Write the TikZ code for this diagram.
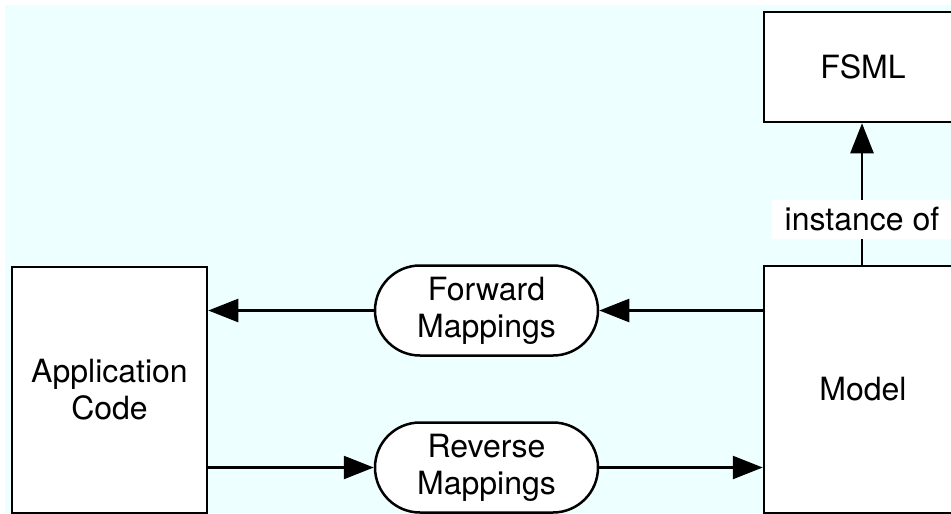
\documentclass[tikz,border=0pt]{standalone}
\usepackage{fontspec}
\setmainfont{TeX Gyre Heros}
\usetikzlibrary{arrows.meta,shapes.misc}
\definecolor{paleCyan}{RGB}{238,255,255}
\tikzset{
  lbl/.style={font=\fontsize{32}{37}\selectfont, align=center},
  block/.style={lbl, draw=black, line width=2.5pt, fill=white, rectangle, inner sep=0pt},
  mapbox/.style={lbl, draw=black, line width=2.5pt, fill=white, rounded rectangle,
    minimum width=223pt, minimum height=90pt, inner sep=0pt},
  arr/.style={line width=2.5pt, -{Triangle[length=30pt,width=23pt]}},
  tag/.style={lbl, fill=white, inner xsep=13pt, inner ysep=0pt, minimum height=39pt}
}
\begin{document}
\begin{tikzpicture}[x=1pt,y=-1pt]
  \useasboundingbox (0,0) rectangle (951,514);
  \clip (0,0) rectangle (951,514);
  \fill[paleCyan] (5,5) rectangle (960,530);

  % blocks
  \node[block, minimum width=198pt, minimum height=110pt] (fsml) at (863,67) {FSML};
  \node[block, minimum width=198pt, minimum height=247pt] (model) at (863,389.5) {Model};
  \node[block, minimum width=195pt, minimum height=246pt] (app) at (109.5,390) {Application\\Code};

  % mapping stadiums
  \node[mapbox] (fwd) at (486.5,310.5) {Forward\\Mappings};
  \node[mapbox] (rev) at (486.5,467.5) {Reverse\\Mappings};

  % forward direction: model -> forward mappings -> application code
  \draw[arr] (model.west |- fwd.east) -- (fwd.east);
  \draw[arr] (fwd.west) -- (app.east |- fwd.west);

  % reverse direction: application code -> reverse mappings -> model
  \draw[arr] (app.east |- rev.west) -- (rev.west);
  \draw[arr] (rev.east) -- (model.west |- rev.east);

  % conformance of the model to FSML
  \draw[arr] (model.north -| 862,0) -- (fsml.south -| 862,0)
    node[tag, pos=0.32] (inst) {instance of};
\end{tikzpicture}
\end{document}
